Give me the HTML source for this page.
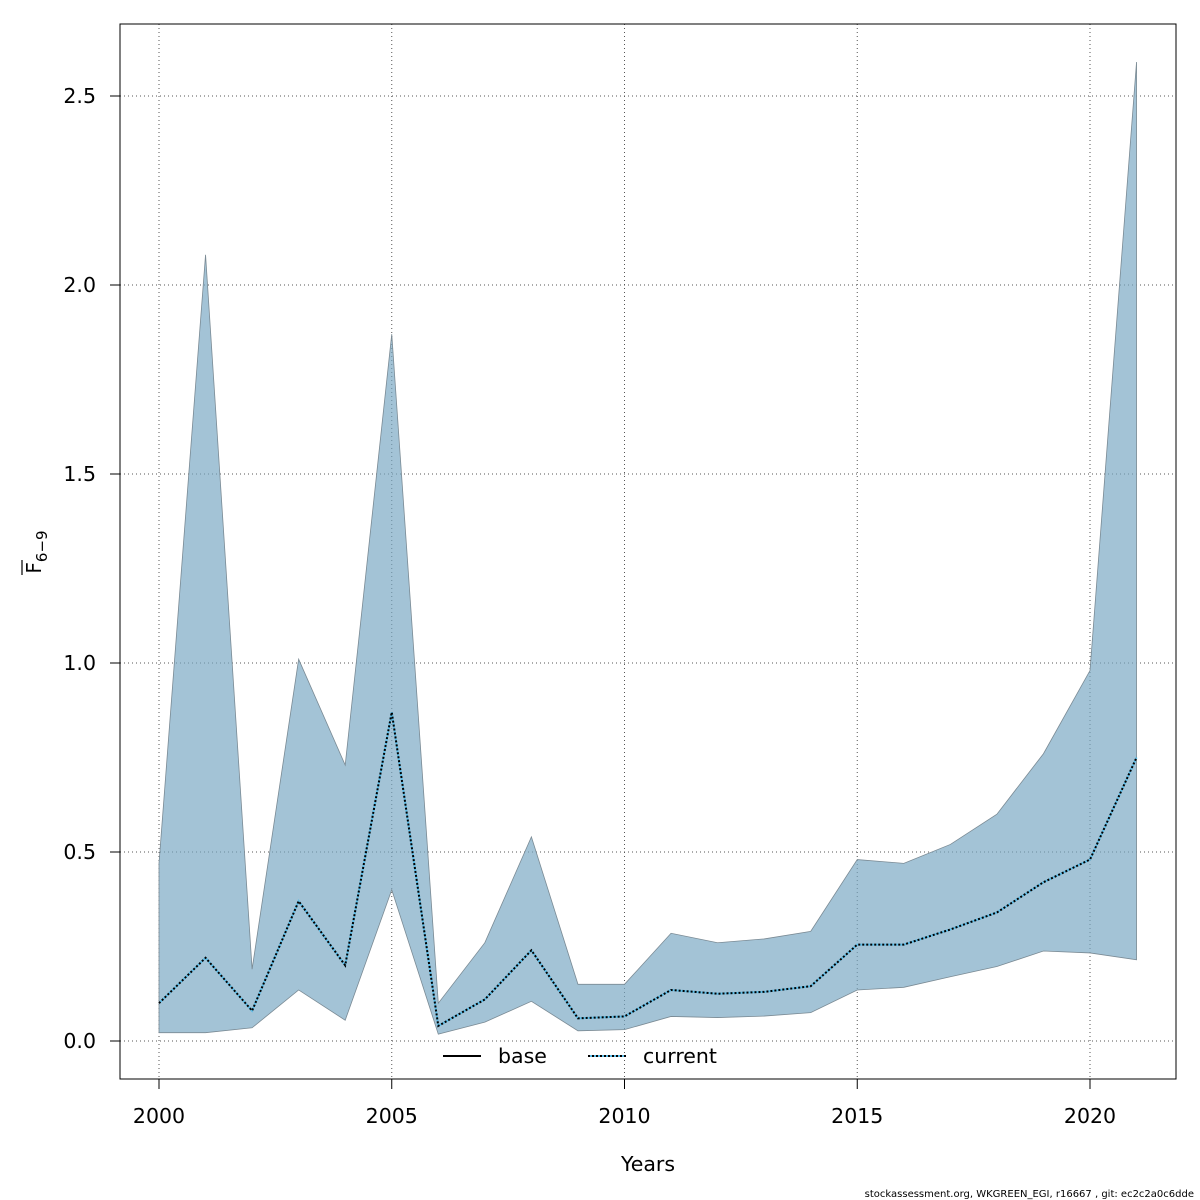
<!DOCTYPE html>
<html><head><meta charset="utf-8"><style>
body{margin:0;background:#fff;}
svg{display:block;font-family:"DejaVu Sans","Liberation Sans",sans-serif;}
</style></head><body>
<svg id="chart" width="1200" height="1200" viewBox="0 0 1200 1200">
<rect x="0" y="0" width="1200" height="1200" fill="#fff"/>
<g id="grid"></g>
<g id="band"></g>
<g id="lines"></g>
<rect x="120" y="24" width="1056" height="1055" fill="none" stroke="#000" stroke-width="1"/>
<g id="axes"></g>
<text x="648" y="1171" font-size="20.5" text-anchor="middle">Years</text>
<g transform="translate(41,552) rotate(-90)">
<text x="0" y="0" font-size="20" text-anchor="middle">F<tspan font-size="15" dy="6">6−9</tspan></text>
<line x1="-23" y1="-19" x2="-8" y2="-19" stroke="#000" stroke-width="1.2"/>
</g>
<g>
<g>
<line x1="443" y1="1056" x2="481" y2="1056" stroke="#000" stroke-width="2"/>
<text x="498" y="1063" font-size="20.5">base</text></g>
<g>
<line x1="588" y1="1056" x2="626" y2="1056" stroke="#5bbde8" stroke-width="2"/>
<line x1="588" y1="1056" x2="626" y2="1056" stroke="#000" stroke-width="2" stroke-dasharray="2,2"/>
<text x="643" y="1063" font-size="20.5">current</text></g>
</g>
<text x="1194" y="1197" font-size="10" text-anchor="end">stockassessment.org, WKGREEN_EGI, r16667 , git: ec2c2a0c6dde</text>
</svg>
<script>
const years=[2000,2001,2002,2003,2004,2005,2006,2007,2008,2009,2010,2011,2012,2013,2014,2015,2016,2017,2018,2019,2020,2021];
const meanF=[0.10,0.22,0.08,0.37,0.20,0.87,0.04,0.11,0.24,0.06,0.065,0.135,0.125,0.13,0.145,0.255,0.255,0.295,0.34,0.42,0.48,0.75];
const upperF=[0.47,2.08,0.19,1.01,0.73,1.87,0.10,0.26,0.54,0.15,0.15,0.285,0.26,0.27,0.29,0.48,0.47,0.52,0.60,0.76,0.98,2.59];
const lowerF=[0.022,0.022,0.035,0.135,0.055,0.40,0.018,0.05,0.105,0.027,0.03,0.065,0.062,0.066,0.075,0.135,0.142,0.17,0.197,0.238,0.233,0.215];
const xTicks=[2000,2005,2010,2015,2020];
const yTicks=[0,0.5,1,1.5,2,2.5];
const yTickLabels=["0.0","0.5","1.0","1.5","2.0","2.5"];
const NS="http://www.w3.org/2000/svg";
function X(v){return 159+(v-2000)*46.55;}
function Y(v){return 1041-v*378;}
function mk(tag,attrs,parent){const e=document.createElementNS(NS,tag);for(const k in attrs)e.setAttribute(k,attrs[k]);parent.appendChild(e);return e;}
const grid=document.getElementById('grid'),axes=document.getElementById('axes'),band=document.getElementById('band'),lines=document.getElementById('lines');
xTicks.forEach(t=>{
 const g=mk('line',{x1:X(t),x2:X(t),y1:24,y2:1079,stroke:'#555','stroke-dasharray':'1,3'},grid);
 
 
 const tk=mk('line',{x1:X(t),x2:X(t),y1:1079,y2:1089,stroke:'#000'},axes);
 
 
 const tx=mk('text',{x:X(t),y:1123,'font-size':20.5,'text-anchor':'middle'},axes);tx.textContent=t;
 
 
});
yTicks.forEach((t,i)=>{
 const g=mk('line',{x1:120,x2:1176,y1:Y(t),y2:Y(t),stroke:'#555','stroke-dasharray':'1,3'},grid);
 
 
 const tk=mk('line',{x1:110,x2:120,y1:Y(t),y2:Y(t),stroke:'#000'},axes);
 
 
 const tx=mk('text',{x:96,y:Y(t)+7,'font-size':20.5,'text-anchor':'end'},axes);tx.textContent=yTickLabels[i];
 
 
});
let pts=years.map((y,i)=>X(y)+','+Y(upperF[i]));
for(let i=years.length-1;i>=0;i--)pts.push(X(years[i])+','+Y(lowerF[i]));
const poly=mk('polygon',{points:pts.join(' '),fill:'rgba(120,166,194,0.68)',stroke:'#7a8a94','stroke-width':0.8},band);


const mp=years.map((y,i)=>X(y)+','+Y(meanF[i])).join(' ');
const l1=mk('polyline',{points:mp,fill:'none',stroke:'#5bbde8','stroke-width':2},lines);


const l2=mk('polyline',{points:mp,fill:'none',stroke:'#000','stroke-width':2,'stroke-dasharray':'2,2'},lines);


</script>
</body></html>
